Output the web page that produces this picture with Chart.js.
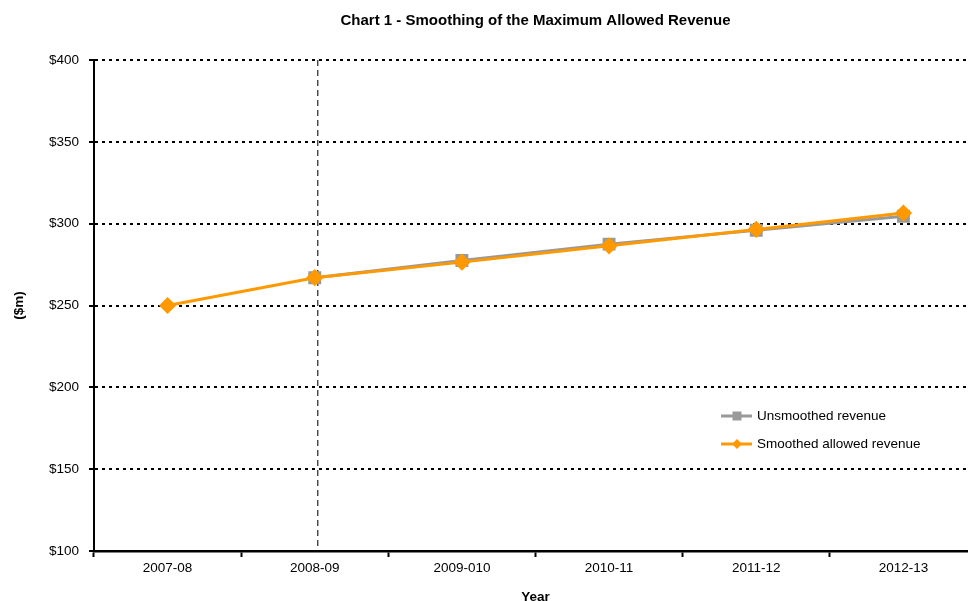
<!DOCTYPE html>
<html>
<head>
<meta charset="utf-8">
<script src="https://cdn.jsdelivr.net/npm/chart.js@4.4.0/dist/chart.umd.min.js"></script>
<style>
  html, body { margin: 0; padding: 0; background: #fff; overflow: hidden; }
  canvas { display: block; }
</style>
</head>
<body>
<canvas id="chart" width="987" height="606"></canvas>
<script>
// chart data
const years = ["2007-08", "2008-09", "2009-010", "2010-11", "2011-12", "2012-13"];
const unsmoothed = [null, 267, 277.5, 287.5, 296, 304.5];
const smoothed = [250, 267, 276.5, 286.5, 296.5, 306.5];
const yMin = 100;
const yMax = 400;
const yStep = 50;
const markerYear = "2008-09";

const FONT = "'Liberation Sans', Arial, sans-serif";
const GREY = "#999999";
const ORANGE = "#FF9900";

// dashed vertical line marking the first year of the period
const markerLine = {
  id: "markerLine",
  beforeDatasetsDraw(chart) {
    const ctx = chart.ctx;
    const area = chart.chartArea;
    const x = chart.scales.x.getPixelForValue(years.indexOf(markerYear)) + 3;
    ctx.save();
    ctx.strokeStyle = "#333333";
    ctx.lineWidth = 1.3;
    ctx.setLineDash([6, 4]);
    ctx.beginPath();
    ctx.moveTo(x, area.top);
    ctx.lineTo(x, area.bottom - 4);
    ctx.stroke();
    ctx.restore();
  },
};

// legend drawn inside the plot, line + marker like the original
const insideLegend = {
  id: "insideLegend",
  afterDatasetsDraw(chart) {
    const ctx = chart.ctx;
    const area = chart.chartArea;
    const x = area.left + 627;
    let y = area.top + 356;
    chart.data.datasets.forEach((ds) => {
      ctx.save();
      ctx.strokeStyle = ds.borderColor;
      ctx.lineWidth = 3;
      ctx.beginPath();
      ctx.moveTo(x, y);
      ctx.lineTo(x + 31, y);
      ctx.stroke();
      ctx.fillStyle = ds.pointBackgroundColor;
      const cx = x + 16;
      if (ds.pointStyle === "rect") {
        ctx.fillRect(cx - 4.5, y - 4.5, 9, 9);
      } else {
        ctx.beginPath();
        ctx.moveTo(cx, y - 5);
        ctx.lineTo(cx + 5, y);
        ctx.lineTo(cx, y + 5);
        ctx.lineTo(cx - 5, y);
        ctx.closePath();
        ctx.fill();
      }
      ctx.fillStyle = "#000";
      ctx.font = "13.5px " + FONT;
      ctx.textBaseline = "middle";
      ctx.fillText(ds.label, x + 36, y);
      ctx.restore();
      y += 28;
    });
  },
};

const ctx = document.getElementById("chart").getContext("2d");
new Chart(ctx, {
  type: "line",
  data: {
    labels: years,
    datasets: [
      {
        label: "Unsmoothed revenue",
        data: unsmoothed,
        borderColor: GREY,
        backgroundColor: GREY,
        pointBackgroundColor: GREY,
        pointBorderColor: GREY,
        pointStyle: "rect",
        pointRadius: 7,
        borderWidth: 3,
        order: 1,
      },
      {
        label: "Smoothed allowed revenue",
        data: smoothed,
        borderColor: ORANGE,
        backgroundColor: ORANGE,
        pointBackgroundColor: ORANGE,
        pointBorderColor: ORANGE,
        pointStyle: "rectRot",
        pointRadius: 6.5,
        borderWidth: 3,
        order: 0,
      },
    ],
  },
  options: {
    responsive: false,
    animation: false,
    devicePixelRatio: 1,
    layout: { padding: { left: 0, right: 0, top: 0, bottom: 0 } },
    plugins: {
      legend: { display: false },
      tooltip: { enabled: false },
      title: {
        display: true,
        text: "Chart 1 - Smoothing of the Maximum Allowed Revenue",
        color: "#000",
        fullSize: false,
        font: { family: FONT, size: 15, weight: "bold" },
        padding: { top: 12, bottom: 30 },
      },
    },
    scales: {
      x: {
        offset: true,
        grid: {
          offset: true,
          drawOnChartArea: false,
          drawTicks: true,
          tickLength: 6,
          tickColor: "#000",
          tickWidth: 2,
        },
        border: { display: true, color: "#000", width: 2.5 },
        ticks: {
          color: "#000",
          padding: 3,
          font: { family: FONT, size: 13.5 },
          maxRotation: 0,
        },
        title: {
          display: true,
          text: "Year",
          color: "#000",
          font: { family: FONT, size: 13.5, weight: "bold" },
          padding: { top: 6, bottom: 1 },
        },
        afterFit(scale) {
          scale.height = 55;
        },
      },
      y: {
        min: yMin,
        max: yMax,
        grid: {
          color: (c) => (c.tick && c.tick.value === yMin ? "rgba(0,0,0,0)" : "#000"),
          lineWidth: 2,
          drawTicks: true,
          tickLength: 5,
          tickColor: "#000",
          tickWidth: 2,
        },
        border: { display: true, color: "#000", width: 2, dash: [3, 4] },
        ticks: {
          stepSize: yStep,
          color: "#000",
          padding: 10,
          font: { family: FONT, size: 13.5 },
          callback: (v) => "$" + v,
        },
        title: {
          display: true,
          text: "($m)",
          color: "#000",
          font: { family: FONT, size: 13.5, weight: "bold" },
          padding: { top: 11, bottom: 0 },
        },
        afterFit(scale) {
          scale.width = 94;
        },
      },
    },
  },
  plugins: [markerLine, insideLegend],
});
</script>
</body>
</html>
